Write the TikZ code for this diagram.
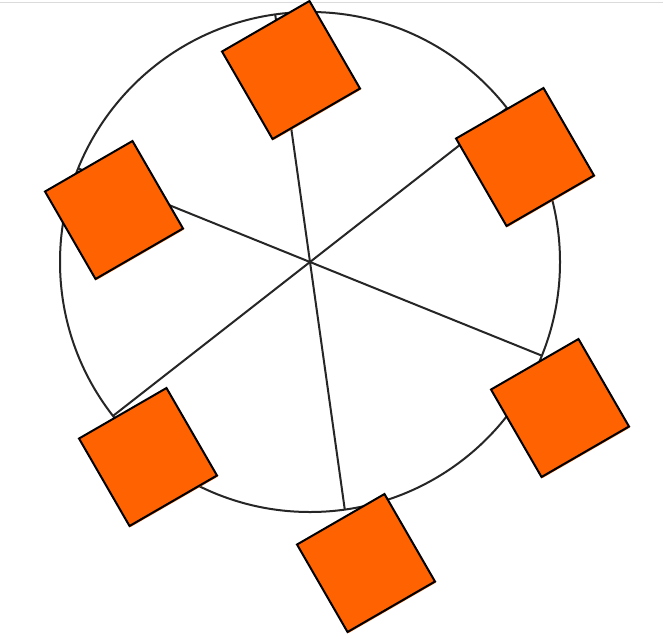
\documentclass[tikz,border=0pt]{standalone}
\usetikzlibrary{calc}
\definecolor{sqorange}{HTML}{FF6200}
\tikzset{
  ringstyle/.style={circle, draw=black!85, line width=2pt, minimum size=500pt, inner sep=0pt, outer sep=0pt},
  spoke/.style={draw=black!85, line width=2pt},
  sqshadow/.style={rectangle, fill=sqorange, minimum size=101pt, inner sep=0pt, rotate=30},
  sqbox/.style={rectangle, draw=black, fill=sqorange, line width=2pt, minimum size=101pt, inner sep=0pt, rotate=30},
}
\begin{document}
\begin{tikzpicture}[x=1pt,y=-1pt]
\useasboundingbox (0,0) rectangle (663,637);
\fill[white] (0,0) rectangle (663,637);
\draw[black!14, line width=1pt] (0,2.5) -- (663,2.5);
\coordinate (hub) at (310,262);
\node[ringstyle] (ring) at (hub) {};
\foreach \a in {38,98,158,218,278,338}{
  \draw[spoke] (hub) -- (ring.\a);
}
\foreach \n/\x/\y in {s1/291/70, s2/525/157, s3/560/408, s4/366/563, s5/148/457, s6/114/210}{
  \node[sqshadow] (\n sh) at (\x+1,\y+1) {};
  \node[sqbox] (\n) at (\x,\y) {};
}
\end{tikzpicture}
\end{document}
